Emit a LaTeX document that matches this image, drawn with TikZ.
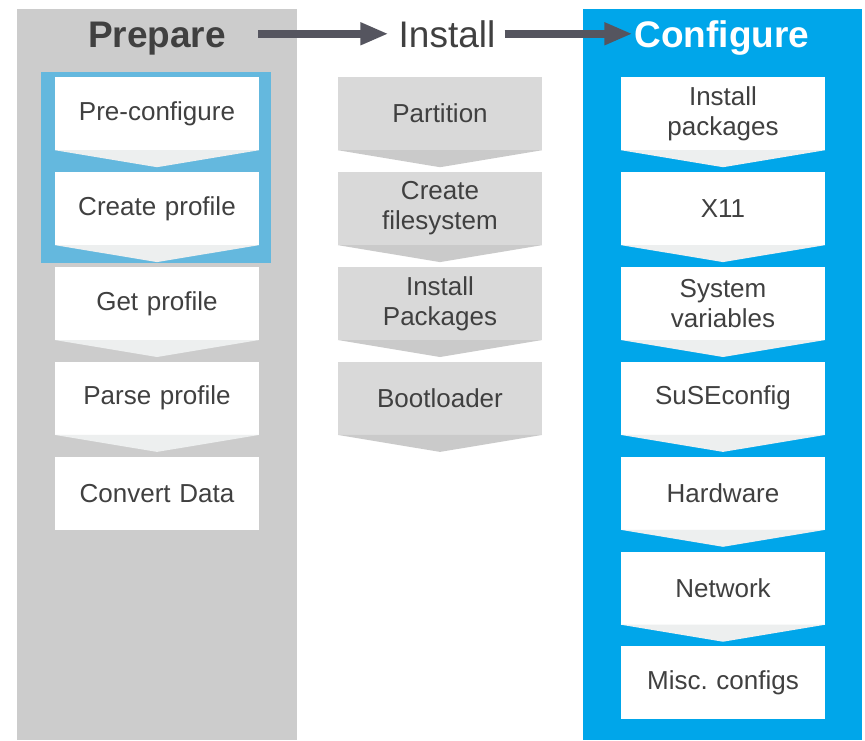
\documentclass[tikz,border=0pt]{standalone}
\usepackage{fontspec}
\setmainfont{Liberation Sans}
\usetikzlibrary{positioning,arrows.meta,backgrounds}

\definecolor{txtgray}{HTML}{404040}
\definecolor{colgray}{HTML}{CCCCCC}
\definecolor{colblue}{HTML}{00A6EA}
\definecolor{hiblue}{HTML}{64B8DE}
\definecolor{midbox}{HTML}{D9D9D9}
\definecolor{midchev}{HTML}{CACACA}
\definecolor{litchev}{HTML}{EDEFEF}
\definecolor{arrowgray}{HTML}{55555F}

\tikzset{
  stepbox/.style={rectangle, fill=white, minimum width=204pt, minimum height=73pt,
    inner sep=0pt, text width=200pt, align=center, text=txtgray,
    font=\fontsize{26}{30}\selectfont\frenchspacing},
  midstep/.style={stepbox, fill=midbox},
  title/.style={inner sep=0pt, anchor=base, font=\fontsize{37}{40}\selectfont},
  chevl/.style={fill=litchev},
  chevm/.style={fill=midchev},
  flow/.style={draw=arrowgray, line width=7.5pt, -{Triangle[length=28pt,width=21pt]}}
}

\begin{document}
\begin{tikzpicture}[x=1pt, y=-1pt]
  \useasboundingbox (0,0) rectangle (865,740);

  % titles
  \node[title, text=txtgray, font=\fontsize{37}{40}\selectfont\bfseries] (prep) at (157,47) {Prepare};
  \node[title, text=txtgray] (inst) at (447,47) {Install};
  \node[title, text=white, font=\fontsize{37}{40}\selectfont\bfseries] (conf) at (722,47) {Configure};

  \draw[flow, shorten <=32pt, shorten >=10pt] (prep.east |- inst.west) -- (inst.west);
  \draw[flow, shorten <=9pt, shorten >=2pt] (inst.east) -- (conf.west |- inst.east);

  % prepare
  \node[stepbox] (pre) at (157,113.5) {Pre-configure};
  \node[stepbox, below=21.5pt of pre] (crea) {Create profile};
  \node[stepbox, below=21.5pt of crea] (get) {Get profile};
  \node[stepbox, below=21.5pt of get] (parse) {Parse profile};
  \node[stepbox, below=21.5pt of parse] (conv) {Convert Data};

  % install
  \node[midstep] (part) at (440,113.5) {Partition};
  \node[midstep, below=21.5pt of part] (fs) {Create\\filesystem};
  \node[midstep, below=21.5pt of fs] (pkg) {Install\\Packages};
  \node[midstep, below=21.5pt of pkg] (boot) {Bootloader};

  % configure
  \node[stepbox] (ipk) at (723,113.5) {Install\\packages};
  \node[stepbox, below=21.5pt of ipk] (x) {X11};
  \node[stepbox, below=21.5pt of x] (sysv) {System\\variables};
  \node[stepbox, below=21.5pt of sysv] (suse) {SuSEconfig};
  \node[stepbox, below=21.5pt of suse] (hw) {Hardware};
  \node[stepbox, below=21.5pt of hw] (net) {Network};
  \node[stepbox, below=21.5pt of net] (misc) {Misc. configs};

  \begin{scope}[on background layer]
    % columns
    \fill[white] (0,0) rectangle (865,740);
    \fill[colgray] (17,9) rectangle (297,740);
    \fill[colblue] (583,9) rectangle (862,740);
    \fill[hiblue] ([xshift=-14pt, yshift=5pt]pre.north west) rectangle ([xshift=12pt, yshift=-18pt]crea.south east);
  \end{scope}

  % chevrons
  \foreach \n in {pre,crea,get,parse,ipk,x,sysv,suse,hw,net}
    \fill[chevl] (\n.south west) -- (\n.south east) -- ([yshift=-17pt]\n.south) -- cycle;
  \foreach \n in {part,fs,pkg,boot}
    \fill[chevm] (\n.south west) -- (\n.south east) -- ([yshift=-17pt]\n.south) -- cycle;
\end{tikzpicture}
\end{document}
